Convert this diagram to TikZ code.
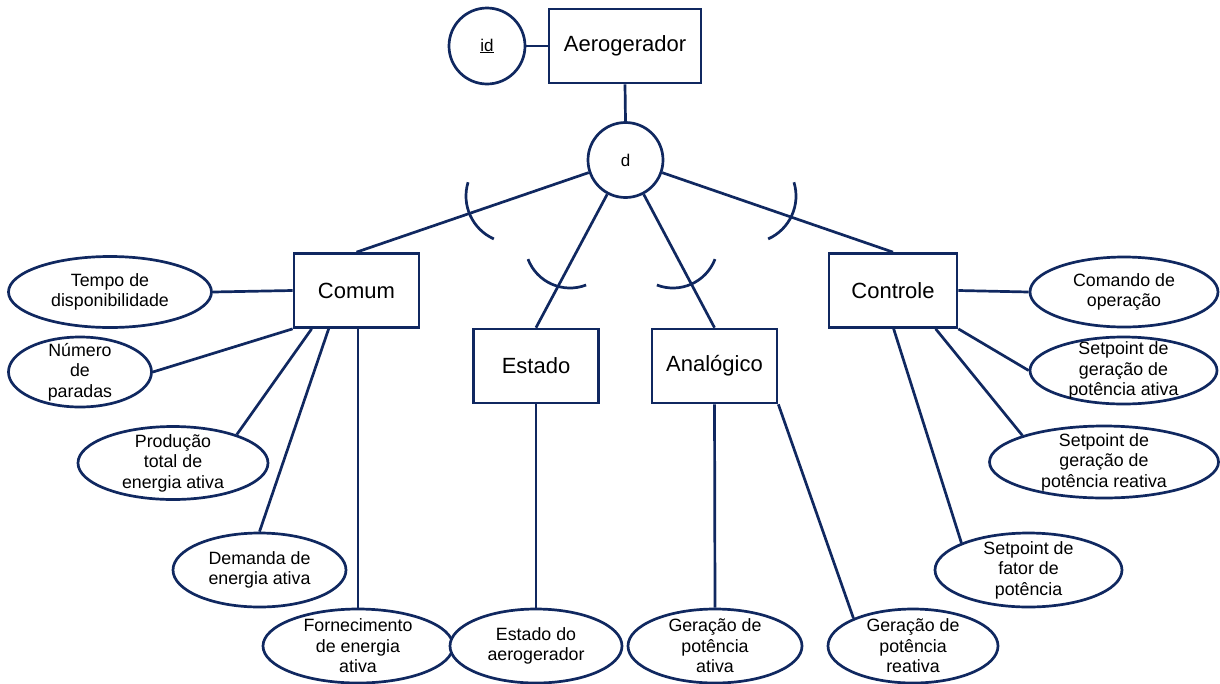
\documentclass[tikz,border=0pt]{standalone}
\usepackage{fontspec}
\setmainfont{Liberation Sans}
\usetikzlibrary{shapes.geometric,calc}
\definecolor{erline}{RGB}{16,40,96}

\begin{document}
\begin{tikzpicture}[x=1pt,y=-1pt,
  lw/.style={line width=2.7pt},
  entity/.style={draw=erline, lw, fill=white, minimum width=125pt,
    minimum height=74pt, inner sep=0pt, font=\fontsize{22}{26}\selectfont},
  attr/.style={ellipse, draw=erline, lw, fill=white, inner xsep=0pt,
    inner ysep=-20pt, align=center, font=\fontsize{17.8}{20.5}\selectfont},
  roundnode/.style={circle, draw=erline, lw, fill=white, inner sep=0pt,
    font=\fontsize{17}{20}\selectfont},
  link/.style={draw=erline, lw},
  subsetarc/.style={draw=erline, lw},
]
\path[use as bounding box, fill=white] (0,0) rectangle (1220,683);

% superclass, key and specialisation circle
\node[roundnode, minimum size=76pt] (id) at (487,46) {\underline{id}};
\node[entity, minimum width=152pt] (aero) at (625,46) {Aerogerador};
\node[roundnode, minimum size=75pt] (d) at (625.5,160) {d};

% subclasses
\node[entity] (comum) at (356.5,290.5) {Comum};
\node[entity] (estado) at (536,366) {Estado};
\node[entity] (analog) at (714.5,366) {Analógico};
\node[entity, minimum width=128pt] (controle) at (893,290.5) {Controle};

% attributes of Comum
\node[attr, minimum width=203pt, minimum height=71pt] (tempo) at (110,292) {Tempo de\\disponibilidade};
\node[attr, minimum width=143pt, minimum height=70pt] (numero) at (80,372) {Número\\de\\paradas};
\node[attr, minimum width=190pt, minimum height=73pt] (producao) at (173,463) {Produção\\total de\\energia ativa};
\node[attr, minimum width=173pt, minimum height=74pt] (demanda) at (259.5,570) {Demanda de\\energia ativa};
\node[attr, minimum width=190pt, minimum height=74pt] (forn) at (358,646) {Fornecimento\\de energia\\ativa};

% attributes of Estado and Analógico
\node[attr, minimum width=172pt, minimum height=74pt] (estadoat) at (536,646) {Estado do\\aerogerador};
\node[attr, minimum width=174pt, minimum height=74pt] (gerativa) at (715,646) {Geração de\\potência\\ativa};
\node[attr, minimum width=170pt, minimum height=74pt] (gerreativa) at (913,646) {Geração de\\potência\\reativa};

% attributes of Controle
\node[attr, minimum width=188pt, minimum height=70pt] (comando) at (1124,292) {Comando de\\operação};
\node[attr, minimum width=187pt, minimum height=67pt] (spativa) at (1123.5,370.5) {Setpoint de\\geração de\\potência ativa};
\node[attr, minimum width=229pt, minimum height=72pt] (spreativa) at (1104,462) {Setpoint de\\geração de\\potência reativa};
\node[attr, minimum width=187pt, minimum height=74pt] (spfator) at (1028.5,570) {Setpoint de\\fator de\\potência};

% connectors of the superclass
\draw[link] (id.east) -- (aero.west);
\draw[link] (aero.south) -- (d.north);
\draw[link] (d) -- (comum.north);
\draw[link] (d) -- (estado.north);
\draw[link] (d) -- (analog.north);
\draw[link] (d) -- (controle.north);

% subset marks on the specialisation lines
\draw[subsetarc] (513,196) ++(114:47) arc[start angle=114, end angle=197, radius=47];
\draw[subsetarc] (570,243) ++(69:45) arc[start angle=69, end angle=159, radius=45];
\draw[subsetarc] (673,243) ++(21:45) arc[start angle=21, end angle=111, radius=45];
\draw[subsetarc] (749,196) ++(-17:47) arc[start angle=-17, end angle=66, radius=47];

% attribute connectors
\draw[link] (comum.west) -- (tempo.east);
\draw[link] (comum.south west) -- (numero.east);
\draw[link] ($(comum.south west)+(19,0)$) -- (producao.24);
\draw[link] ($(comum.south west)+(36,0)$) -- (demanda.north);
\draw[link] (forn.north) -- (forn.north |- comum.south);
\draw[link] (estado.south) -- (estadoat.north);
\draw[link] (analog.south) -- (gerativa.north);
\draw[link] (analog.south east) -- (gerreativa.155);
\draw[link] (controle.east) -- (comando.west);
\draw[link] (controle.south east) -- (spativa.west);
\draw[link] ($(controle.south west)+(108,0)$) -- (spreativa.162);
\draw[link] ($(controle.south west)+(66,0)$) -- (spfator.158);
\end{tikzpicture}
\end{document}
